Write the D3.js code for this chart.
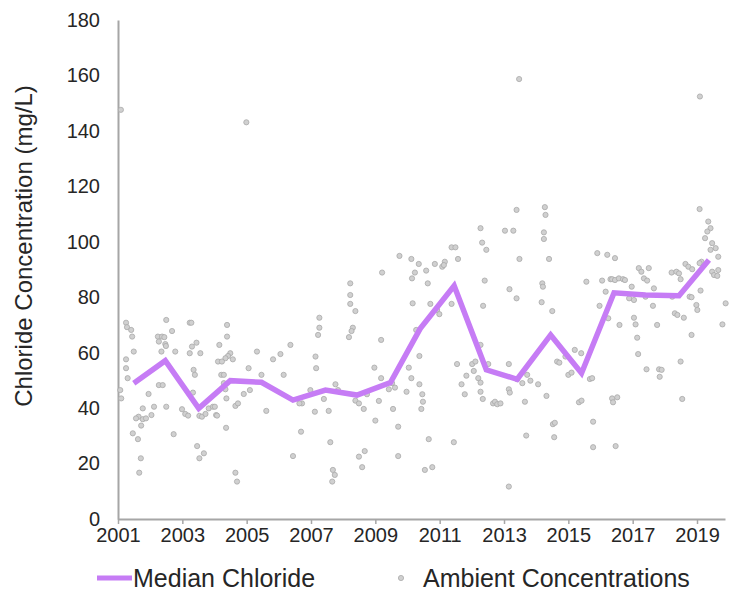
<!DOCTYPE html>
<html>
<head>
<meta charset="utf-8">
<script src="https://cdn.jsdelivr.net/npm/d3@7"></script>
<style>
  html, body { margin: 0; padding: 0; background: #fff; }
  svg { display: block; font-family: "Liberation Sans", Arial, sans-serif; }
</style>
</head>
<body>
<svg id="chart" width="737" height="594"></svg>
<script>
// Annual median chloride (mg/L), plotted at the middle of each sampling year
const medianYears = [2001.49, 2002.47, 2003.51, 2004.49, 2005.46, 2006.44, 2007.45, 2008.43, 2009.47, 2010.39,
  2011.45, 2012.45, 2013.41, 2014.45, 2015.41, 2016.42, 2017.40, 2018.44, 2019.37];
const medianValues = [49.0, 57.1, 39.9, 49.9, 49.3, 42.9, 46.5, 44.7, 49.2, 68.6,
  84.1, 53.8, 50.4, 66.4, 52.6, 81.6, 80.8, 80.5, 93.4];

// Individual ambient samples: sample date (decimal year) and concentration (mg/L)
const ambientYears = [
  2001.09, 2004.99, 2013.47, 2019.09,
  2001.25, 2001.28, 2001.41, 2001.44, 2001.49, 2001.25, 2001.25, 2001.30, 2001.07, 2001.10,
  2002.50, 2002.68, 2002.24, 2002.37, 2002.44, 2002.27, 2002.47, 2002.49, 2002.35, 2002.78,
  2003.23, 2003.28, 2003.44, 2003.30, 2003.23, 2003.56, 2003.35, 2003.39, 2003.33, 2002.27,
  2002.39, 2001.95, 2001.77, 2001.64, 2001.56, 2001.77, 2001.87, 2002.04, 2002.12, 2002.50,
  2001.72, 2001.46, 2001.62, 2002.73, 2001.71, 2001.66, 2002.99, 2003.09, 2003.18, 2003.53,
  2003.61, 2003.72, 2003.82, 2003.95, 2003.46, 2003.67, 2003.53, 2004.05, 2004.11,
  2004.39, 2004.39, 2004.15, 2004.49, 2004.42, 2004.34, 2004.23, 2004.57, 2004.21, 2004.29,
  2004.29, 2004.34, 2004.37, 2004.01, 2004.08, 2004.65, 2004.73, 2004.91, 2005.10, 2005.06,
  2004.36, 2004.65, 2004.70, 2005.32, 2005.46, 2005.61, 2005.82, 2006.05, 2006.15, 2006.36,
  2006.69, 2006.44, 2006.72, 2006.64, 2006.98, 2007.12, 2007.14, 2007.16,
  2007.26, 2007.26, 2007.22, 2007.40, 2007.55, 2007.76, 2007.84, 2007.60, 2007.68, 2007.74,
  2007.66, 2008.22, 2008.22, 2008.22, 2008.38, 2008.30, 2008.26, 2008.18, 2008.38, 2008.49,
  2008.64, 2008.74, 2009.00, 2008.49, 2008.67, 2008.59, 2008.97, 2009.11, 2009.18, 2009.21,
  2009.18, 2009.42, 2009.52, 2009.61, 2009.55, 2009.71, 2009.71, 2009.75, 2009.97, 2010.04,
  2010.12, 2010.12, 2010.23, 2010.14, 2010.16, 2010.27,
  2010.35, 2010.37, 2010.37, 2010.46, 2010.48, 2010.43, 2010.58, 2010.63, 2010.85, 2011.08,
  2011.16, 2011.13, 2010.71, 2010.92, 2010.99, 2010.66, 2010.54, 2010.77, 2011.37, 2011.49,
  2011.57, 2011.37, 2011.54, 2011.68, 2011.78, 2011.44, 2011.83, 2012.01, 2012.11, 2012.06,
  2012.20, 2012.27, 2012.27, 2012.34, 2012.27, 2012.27, 2012.32, 2012.45, 2012.40, 2012.35,
  2012.51, 2012.66, 2012.72, 2012.79, 2012.89, 2013.03, 2013.29, 2013.17, 2013.39, 2013.15,
  2013.15, 2013.18, 2013.15, 2013.39,
  2013.48, 2013.41, 2013.57, 2013.72, 2013.82, 2014.06, 2013.65, 2013.69, 2014.27, 2014.29,
  2014.24, 2014.24, 2014.40, 2014.19, 2014.21, 2014.17, 2014.50, 2014.32, 2014.52, 2014.58,
  2014.56, 2014.65, 2014.72, 2014.91, 2015.00, 2015.10, 2015.20, 2015.40, 2015.33, 2015.41,
  2015.67, 2015.74, 2015.77, 2015.77, 2015.56, 2015.90, 2016.21, 2016.05, 2016.31, 2016.36,
  2015.97, 2016.24, 2016.45, 2016.36, 2016.39, 2016.47, 2016.16,
  2016.45, 2016.57, 2016.70, 2016.76, 2016.97, 2016.89, 2017.04, 2016.59, 2017.04, 2017.09,
  2017.14, 2017.17, 2017.43, 2017.82, 2017.90, 2017.84, 2016.52, 2017.19, 2017.27, 2017.50,
  2017.35, 2017.45, 2017.66, 2017.40, 2017.63, 2017.76, 2018.21, 2018.36, 2018.44, 2018.49,
  2018.23, 2018.31, 2018.39, 2018.59, 2018.64, 2018.73, 2018.85, 2018.77, 2018.83, 2018.83,
  2018.98, 2019.01, 2018.49, 2018.54, 2019.11, 2019.08, 2019.35, 2019.42, 2019.32, 2019.25,
  2019.47, 2019.58, 2019.42, 2019.66, 2019.14, 2019.08, 2019.47, 2019.66, 2019.53, 2019.63,
  2019.89, 2019.79
];
const ambientValues = [
  147.6, 143.1, 158.7, 152.4,
  70.8, 69.2, 68.2, 65.8, 60.4, 57.6, 54.4, 50.8, 46.5, 43.5,
  71.8, 67.8, 65.8, 65.8, 65.6, 64.0, 63.1, 62.4, 60.4, 60.4,
  70.8, 70.8, 63.6, 62.2, 59.8, 59.8, 53.8, 52.0, 45.6, 48.3,
  48.3, 45.1, 39.9, 36.9, 36.3, 36.0, 36.3, 37.5, 40.5, 40.5,
  33.7, 30.9, 28.8, 30.6, 21.9, 16.7, 39.6, 37.9, 37.3, 37.2,
  36.9, 37.9, 39.9, 40.5, 26.3, 23.7, 21.9, 37.5, 56.8,
  70.0, 65.8, 62.8, 59.8, 58.8, 58.0, 56.8, 57.6, 52.0, 52.0,
  49.0, 46.8, 43.5, 40.5, 37.3, 40.8, 41.7, 45.1, 46.5, 54.4,
  32.9, 16.7, 13.5, 60.4, 52.0, 39.0, 57.6, 59.5, 52.0, 62.8,
  31.5, 22.7, 41.7, 41.7, 46.5, 38.7, 58.6, 54.4,
  72.6, 69.0, 66.4, 43.3, 39.0, 48.6, 46.5, 27.7, 17.7, 15.9,
  13.5, 85.0, 80.8, 77.6, 75.0, 69.0, 67.8, 65.6, 42.7, 41.7,
  39.7, 45.0, 35.5, 22.5, 24.5, 18.7, 54.6, 42.6, 64.6, 88.9,
  50.8, 46.8, 49.0, 47.4, 39.7, 33.3, 22.7, 94.9, 45.9, 54.6,
  50.8, 93.8, 88.9, 86.8, 77.8, 68.2,
  92.0, 58.8, 48.6, 45.0, 42.3, 39.7, 89.6, 85.0, 92.0, 91.0,
  92.8, 91.6, 77.6, 75.4, 73.9, 28.8, 17.7, 18.7, 98.0, 98.0,
  93.8, 77.6, 55.9, 48.6, 45.0, 27.7, 51.7, 55.9, 56.8, 53.4,
  50.8, 49.2, 45.9, 43.3, 62.8, 104.9, 99.7, 97.1, 86.0, 76.9,
  55.9, 41.7, 42.3, 41.4, 41.7, 104.0, 104.0, 82.9, 79.6, 55.9,
  46.8, 45.6, 11.7, 111.5,
  93.8, 50.4, 49.0, 52.0, 49.9, 48.6, 42.3, 30.1, 112.5, 109.7,
  103.4, 101.0, 93.8, 85.0, 83.8, 78.2, 75.0, 44.4, 34.2, 34.7,
  29.5, 56.8, 56.4, 58.6, 52.0, 52.8, 61.0, 59.8, 42.1, 42.7,
  50.5, 50.8, 35.1, 25.9, 85.6, 95.9, 95.3, 86.0, 86.5, 86.5,
  76.9, 72.4, 94.1, 43.5, 42.1, 26.3, 82.0,
  86.2, 86.8, 86.5, 86.2, 83.8, 79.6, 79.0, 70.0, 72.6, 70.2,
  65.4, 59.5, 54.0, 54.0, 53.8, 51.3, 43.9, 90.5, 89.2, 90.5,
  86.8, 86.0, 83.2, 80.2, 76.9, 70.0, 88.9, 89.2, 88.6, 86.5,
  80.2, 74.2, 73.6, 72.6, 92.0, 91.0, 90.1, 80.2, 80.0, 66.4,
  77.2, 75.4, 56.8, 43.3, 82.4, 111.8, 107.3, 104.9, 103.7, 101.3,
  99.5, 97.7, 97.1, 94.6, 92.8, 92.3, 89.2, 89.8, 88.0, 87.7,
  77.8, 70.2
];

const yTicks = [0, 20, 40, 60, 80, 100, 120, 140, 160, 180];
const xTicks = [2001, 2003, 2005, 2007, 2009, 2011, 2013, 2015, 2017, 2019];

const svg = d3.select("#chart");
const x = d3.scaleLinear().domain([2001, 2019.87]).range([118, 725]);
const y = d3.scaleLinear().domain([0, 180]).range([519, 20]);

const axisColor = "#a6a6a6";
const textColor = "#262626";

// Y axis: a plain line with labels, no tick marks
const yAxis = svg.append("g").attr("transform", `translate(${x.range()[0]},0)`)
  .call(d3.axisLeft(y).tickValues(yTicks).tickSize(0).tickPadding(18));
yAxis.select(".domain").attr("stroke", axisColor).attr("stroke-width", 2);
yAxis.selectAll("text").attr("fill", textColor).style("font-size", "20px");

// X axis with short outward ticks every two years
const xAxis = svg.append("g").attr("transform", `translate(0,${y(0)})`)
  .call(d3.axisBottom(x).tickValues(xTicks).tickFormat(d3.format("d")).tickSizeInner(5).tickSizeOuter(0).tickPadding(4));
xAxis.select(".domain").attr("stroke", axisColor).attr("stroke-width", 2);
xAxis.selectAll(".tick line").attr("stroke", axisColor).attr("stroke-width", 1.5);
xAxis.selectAll("text").attr("fill", textColor).style("font-size", "20px");

// Ambient samples
const samples = ambientYears.map((t, i) => ({ t, v: ambientValues[i] }));
svg.append("g").selectAll("circle").data(samples).join("circle")
  .attr("cx", d => x(d.t)).attr("cy", d => y(d.v)).attr("r", 2.6)
  .attr("fill", "#d0d0d0").attr("stroke", "#aaaaaa").attr("stroke-width", 0.8);

// Median line
const medians = medianYears.map((t, i) => ({ t, v: medianValues[i] }));
const purple = "#c67cf5";
svg.append("path").datum(medians)
  .attr("fill", "none").attr("stroke", purple).attr("stroke-width", 5.5)
  .attr("stroke-linejoin", "miter")
  .attr("d", d3.line().x(d => x(d.t)).y(d => y(d.v)));

// Y axis title
svg.append("text")
  .attr("transform", "translate(32,246) rotate(-90)")
  .attr("text-anchor", "middle").attr("fill", textColor)
  .style("font-size", "24px")
  .text("Chloride Concentration (mg/L)");

// Legend
const legend = svg.append("g");
legend.append("line").attr("x1", 97).attr("x2", 132).attr("y1", 578).attr("y2", 578)
  .attr("stroke", purple).attr("stroke-width", 5);
legend.append("text").attr("x", 133).attr("y", 587).attr("fill", textColor)
  .style("font-size", "25px").text("Median Chloride");
legend.append("circle").attr("cx", 401).attr("cy", 578).attr("r", 2.6)
  .attr("fill", "#d0d0d0").attr("stroke", "#aaaaaa").attr("stroke-width", 0.8);
legend.append("text").attr("x", 423).attr("y", 587).attr("fill", textColor)
  .style("font-size", "25px").text("Ambient Concentrations");
</script>
</body>
</html>
